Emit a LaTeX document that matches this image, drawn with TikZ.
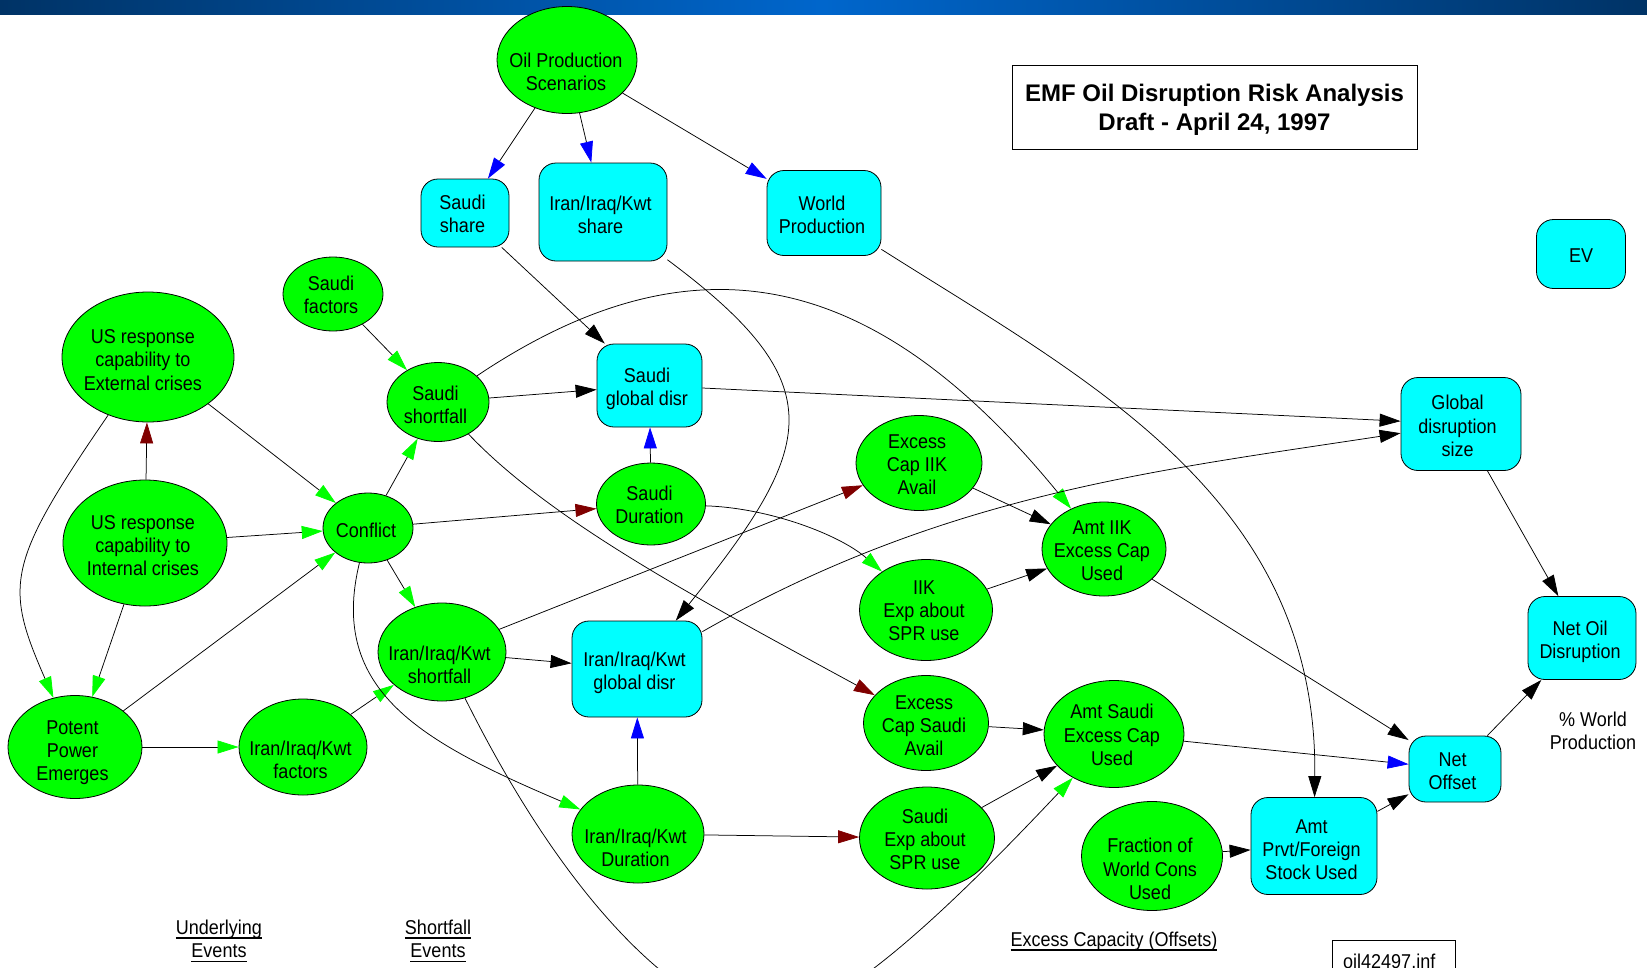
\documentclass[tikz,border=0pt]{standalone}
\usepackage{fontspec}
\setmainfont{Liberation Sans}[FakeStretch=0.9]
\newfontfamily\titlefont{Liberation Sans}
\usetikzlibrary{shapes.geometric,arrows.meta}
\definecolor{ngreen}{RGB}{0,255,0}
\definecolor{ncyan}{RGB}{0,255,255}
\definecolor{ared}{RGB}{128,0,0}
\definecolor{ablue}{RGB}{0,0,255}
\definecolor{agreen}{RGB}{0,255,0}
\definecolor{hdark}{RGB}{0,51,102}
\definecolor{hmid}{RGB}{0,102,204}
\newcommand\nf{\fontsize{20pt}{23.2pt}\selectfont}
\newcommand\ulx[1]{\setbox0\hbox{#1}\rlap{\rule[-4.5pt]{\wd0}{1.6pt}}\box0}
% green ellipse: name, position, width, height, text dx, text dy (down), text
\newcommand\GN[7]{\node[gell,minimum width=#3pt,minimum height=#4pt,
   label={[tl,name=#1t,xshift=#5pt,yshift=-#6pt]center:#7}] (#1) at (#2) {};}
% cyan box
\newcommand\CB[7]{\node[cbox,minimum width=#3pt,minimum height=#4pt,
   label={[tl,name=#1t,xshift=#5pt,yshift=-#6pt]center:#7}] (#1) at (#2) {};}
\begin{document}
\begin{tikzpicture}[x=1pt,y=-1pt,
  every node/.style={font=\nf},
  tl/.style={align=center,inner sep=0pt,font=\nf},
  gell/.style={ellipse,draw=black,line width=0.8pt,fill=ngreen,inner sep=0pt},
  cbox/.style={rectangle,rounded corners=17pt,draw=black,line width=0.8pt,fill=ncyan,inner sep=0pt},
  lnk/.style={line width=0.75pt,black},
  hk/.style={lnk,-{Triangle[length=21pt,width=13pt,color=black]}},
  hg/.style={lnk,-{Triangle[length=21pt,width=13pt,color=agreen]}},
  hr/.style={lnk,-{Triangle[length=21pt,width=13pt,color=ared]}},
  hb/.style={lnk,-{Triangle[length=21pt,width=13pt,color=ablue]}},
]
\useasboundingbox (0,0) rectangle (1647,967);
\clip (0,0) rectangle (1647,967);
\fill[white] (0,0) rectangle (1647,967);
\shade[left color=hdark,right color=hdark,middle color=hmid] (0,0) rectangle (1647,14);

% nodes
\GN{op}{567,60}{140}{107}{-1}{12}{Oil Production\\Scenarios}
\CB{ss}{465,213}{88}{68}{-2.5}{1}{Saudi\\share}
\CB{is}{603,212}{128}{98}{-2.5}{2.5}{Iran/Iraq/Kwt\\share}
\CB{wp}{824,213}{114}{85}{-2}{1.5}{World\\Production}
\node[draw=black,line width=0.8pt,fill=white,minimum width=405pt,minimum height=84pt,inner sep=0pt,
      label={[align=center,inner sep=0pt,name=titlet,yshift=-3pt,font=\titlefont\bfseries\fontsize{24pt}{28.5pt}\selectfont]center:EMF Oil Disruption Risk Analysis\\Draft - April 24, 1997}] (title) at (1214.5,107) {};
\CB{ev}{1581,254}{89}{69}{0}{2}{EV}
\GN{sf}{333,294}{100}{74}{-2}{1}{Saudi\\factors}
\GN{ue}{148,357}{172}{130}{-5}{3}{US response\\capability to\\External crises}
\GN{ui}{145,543}{164}{126}{-2}{2.6}{US response\\capability to\\Internal crises}
\GN{cf}{368,528}{90}{70}{-2}{2}{Conflict}
\GN{ssh}{438,402}{102}{79}{-2.5}{3}{Saudi\\shortfall}
\CB{sgd}{649.5,385.5}{105}{83}{-2.5}{3.5}{Saudi\\global disr}
\GN{sdu}{651,504}{109}{82}{-1.5}{1}{Saudi\\Duration}
\GN{ishort}{442,652}{128}{98}{-2.5}{12.5}{Iran/Iraq/Kwt\\shortfall}
\GN{ifac}{303,747}{128}{96}{-2.5}{13}{Iran/Iraq/Kwt\\factors}
\GN{pp}{75,747}{134}{103}{-2.5}{5.5}{Potent\\Power\\Emerges}
\CB{igd}{637,669}{130}{96}{-2.5}{4}{Iran/Iraq/Kwt\\global disr}
\GN{idu}{638,834}{132}{98}{-2.5}{13.5}{Iran/Iraq/Kwt\\Duration}
\GN{ecia}{919,463}{126}{95}{-2}{2}{Excess\\Cap IIK\\Avail}
\GN{aiik}{1104,549}{124}{94}{-2}{1.5}{Amt IIK\\Excess Cap\\Used}
\GN{iiksp}{926,610}{133}{101}{-2}{1}{IIK\\Exp about\\SPR use}
\GN{ecsa}{926,723}{125}{95}{-2}{3}{Excess\\Cap Saudi\\Avail}
\GN{asec}{1114,734}{140}{107}{-2}{1}{Amt Saudi\\Excess Cap\\Used}
\GN{ssp}{927,838}{135}{102}{-2}{1.4}{Saudi\\Exp about\\SPR use}
\GN{fwc}{1152,856}{141}{109}{-2}{13}{Fraction of\\World Cons\\Used}
\CB{gds}{1461,424}{120}{93}{-3.5}{2}{Global\\disruption\\size}
\CB{nod}{1582,638}{108}{83}{-2}{4}{Net Oil\\Disruption}
\CB{no}{1455,769}{92}{66}{-2.5}{2.5}{Net\\Offset}
\CB{apf}{1314,846}{126}{97}{-2.5}{4}{Amt\\Prvt/Foreign\\Stock Used}
\node[align=center] (pwp) at (1593,730.5) {\% World\\Production};
\node[align=center] (lund) at (219,941) {\ulx{Underlying}\\\ulx{Events}};
\node[align=center] (lsho) at (438,941) {\ulx{Shortfall}\\\ulx{Events}};
\node (lexc) at (1114,941) {\ulx{Excess Capacity (Offsets)}};
\node[draw=black,line width=0.8pt,fill=white,minimum width=123pt,minimum height=60pt,inner sep=0pt] (oil) at (1393.5,970) {};
\node[anchor=base west,inner sep=0pt] (oiltxt) at (1343,968) {oil42497.inf};

% connectors
\draw[hb] (op) -- (ss);
\draw[hb] (op) -- (is);
\draw[hb] (op) -- (wp);
\draw[hk] (ss) -- (sgd);
\draw[hk] (is) .. controls (836,385) and (816,446) .. (igd);
\draw[hk] (wp) .. controls (1089,381) and (1318,498) .. (apf);
\draw[hg] (sf) -- (ssh);
\draw[hg] (ue) -- (cf);
\draw[hr] (ui) -- (ue);
\draw[hg] (ui) -- (cf);
\draw[hg] (ue) .. controls (6,564) and (4,585) .. (pp);
\draw[hg] (ui) -- (pp);
\draw[hg] (pp) -- (cf);
\draw[hg] (pp) -- (ifac);
\draw[hg] (ifac) -- (ishort);
\draw[hg] (cf) -- (ssh);
\draw[hg] (cf) -- (ishort);
\draw[hr] (cf) -- (sdu);
\draw[hg] (cf) .. controls (328,691) and (422,742) .. (idu);
\draw[hk] (ssh) -- (sgd);
\draw[hg] (ssh) .. controls (700,226) and (880,275) .. (aiik);
\draw[hr] (ssh) .. controls (552,522) and (700,600) .. (ecsa);
\draw[hk] (sgd) -- (gds);
\draw[hb] (sdu) -- (sgd);
\draw[hg] (sdu) .. controls (770,508) and (840,535) .. (iiksp);
\draw[hr] (ishort) -- (ecia);
\draw[hk] (ishort) -- (igd);
\draw[hg] (ishort) .. controls (581,931) and (700,1020) .. (765,1020) .. controls (830,1020) and (934,925) .. (asec);
\draw[hk] (igd) .. controls (943,494) and (1153,471) .. (gds);
\draw[hb] (idu) -- (igd);
\draw[hr] (idu) -- (ssp);
\draw[hk] (ecia) -- (aiik);
\draw[hk] (iiksp) -- (aiik);
\draw[hk] (ecsa) -- (asec);
\draw[hk] (ssp) -- (asec);
\draw[hk] (aiik) -- (no);
\draw[hb] (asec) -- (no);
\draw[hk] (fwc) -- (apf);
\draw[hk] (apf) -- (no);
\draw[hk] (no) -- (nod);
\draw[hk] (gds) -- (nod);
\end{tikzpicture}
\end{document}
